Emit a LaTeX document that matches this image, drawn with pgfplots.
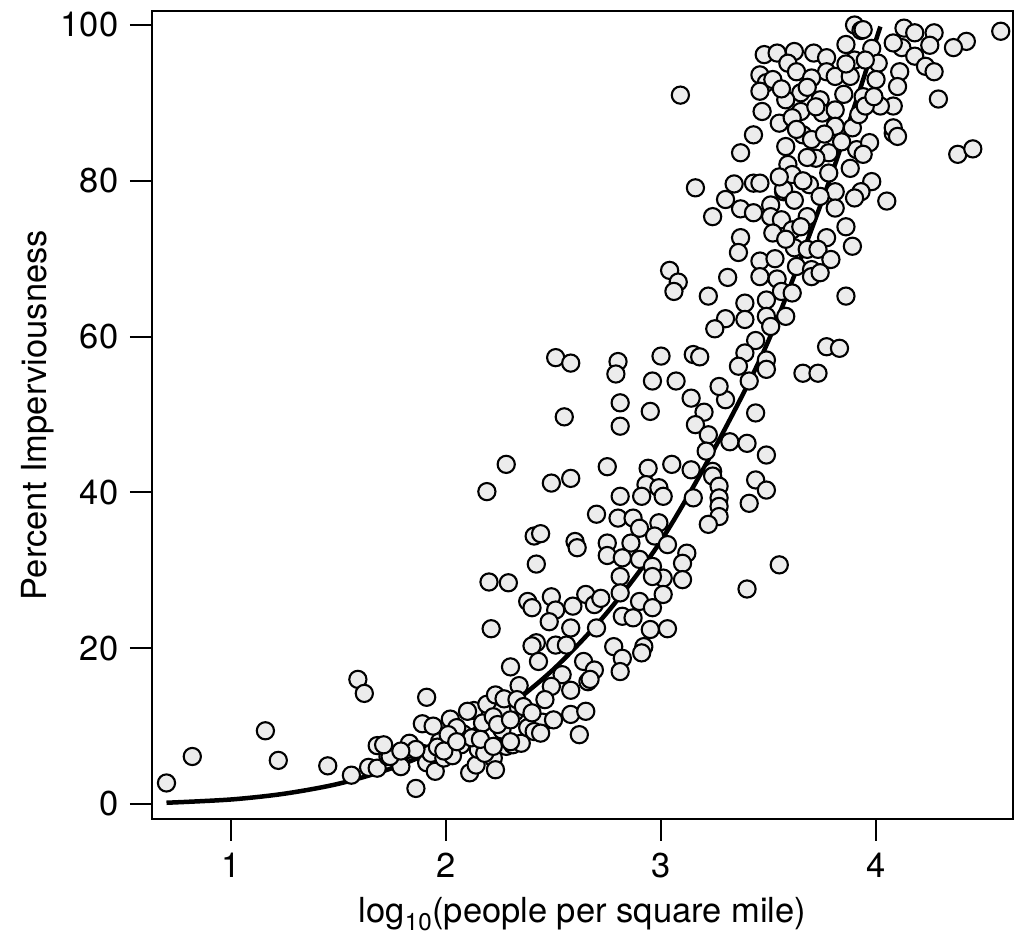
\documentclass[border=0pt]{standalone}
\usepackage{fontspec}
\setmainfont{TeX Gyre Heros}
\usepackage{pgfplots}
\usepackage{pgfplotstable}
\pgfplotsset{compat=1.18}
\definecolor{ptfill}{RGB}{236,236,236}
\pgfplotstableread{
x y
0.70 2.7
0.82 6.1
1.16 9.4
1.22 5.6
1.45 4.9
1.59 16.0
1.62 14.2
1.56 3.7
1.64 4.7
1.68 4.6
1.68 7.5
1.73 6.1
1.78 5.7
1.79 4.8
1.82 7.0
1.83 7.8
1.86 2.0
1.89 10.3
1.91 13.7
1.89 6.5
1.91 5.3
1.74 6.1
1.93 6.5
1.95 4.2
1.99 5.9
2.07 7.6
2.11 4.0
2.14 5.0
2.15 7.0
2.22 5.9
2.23 4.4
2.28 7.4
2.31 7.6
2.35 7.8
2.62 8.9
1.97 8.0
2.03 6.2
2.08 9.0
2.12 8.5
2.18 6.5
2.26 9.5
2.32 11.8
2.38 9.8
2.45 10.5
2.02 10.9
1.96 7.3
2.13 12.0
2.19 12.8
2.26 12.0
2.42 30.8
2.20 28.5
2.29 28.4
2.38 26.0
2.40 25.2
2.49 26.6
2.51 24.9
2.59 25.4
2.65 26.9
2.69 25.6
2.48 23.4
2.58 22.6
2.21 22.5
2.42 20.7
2.40 20.3
2.51 20.4
2.56 20.4
2.43 18.3
2.30 17.6
2.64 18.3
2.69 17.2
2.54 16.6
2.66 15.7
2.49 15.1
2.58 14.6
2.34 15.2
2.23 14.0
2.27 13.5
2.33 13.4
2.46 13.4
2.36 12.5
2.40 11.7
2.50 10.8
2.58 11.5
2.65 11.9
2.10 11.9
1.94 10.0
2.05 9.8
2.01 8.9
2.17 10.4
2.22 11.2
2.24 10.2
2.30 10.8
2.30 8.0
2.41 9.3
2.44 9.1
2.16 8.3
2.22 7.4
1.86 7.0
1.79 6.8
1.71 7.6
1.99 6.8
2.05 8.0
2.51 57.3
2.58 56.6
2.80 56.8
2.79 55.2
2.55 49.7
2.81 51.5
2.81 48.5
2.28 43.6
2.19 40.1
2.49 41.2
2.58 41.8
2.75 43.3
2.81 39.5
2.70 37.2
2.80 36.7
2.41 34.4
2.44 34.7
2.60 33.7
2.61 32.9
2.75 33.5
2.75 31.9
2.95 50.4
2.96 54.3
3.07 54.3
3.14 52.1
3.20 50.3
3.30 51.9
3.27 53.6
3.41 54.3
3.44 50.2
3.16 48.7
3.22 47.4
3.32 46.5
3.40 46.3
3.21 45.3
3.49 44.8
2.94 43.1
3.05 43.6
3.14 42.9
3.24 42.7
3.24 42.1
3.27 40.8
3.44 41.6
3.49 40.3
2.93 41.0
2.99 40.6
2.91 39.5
3.01 39.5
3.15 39.3
3.27 39.3
3.27 38.2
3.27 36.9
3.22 35.9
3.41 38.6
2.87 36.7
2.90 35.4
2.99 36.1
2.97 34.4
3.03 33.3
2.86 33.5
2.82 31.6
2.90 31.4
2.96 30.5
3.12 32.2
3.10 30.9
3.10 28.8
3.01 29.0
2.96 29.2
2.81 29.2
3.55 30.7
3.40 27.6
2.72 26.4
2.81 27.1
2.90 26.0
3.01 26.9
2.96 25.2
2.82 24.1
2.87 23.9
2.70 22.6
2.95 22.4
3.03 22.5
2.92 20.2
2.78 20.2
2.82 18.7
2.81 17.0
2.67 16.0
2.91 19.4
3.43 85.9
3.37 83.6
3.16 79.1
3.34 79.6
3.43 79.7
3.46 79.7
3.57 78.6
3.30 77.6
3.37 76.4
3.43 75.9
3.51 76.9
3.51 75.4
3.56 75.0
3.52 73.3
3.61 73.7
3.24 75.4
3.37 72.7
3.36 70.8
3.62 71.4
3.04 68.5
3.08 67.0
3.06 65.8
3.31 67.6
3.46 69.7
3.46 67.7
3.54 67.4
3.56 65.8
3.61 65.6
3.22 65.2
3.39 64.3
3.49 64.7
3.58 62.6
3.49 62.6
3.30 62.3
3.39 62.2
3.25 61.0
3.51 61.3
3.44 59.5
3.39 57.9
3.49 57.0
3.36 56.2
3.49 55.8
3.00 57.5
3.15 57.7
3.18 57.4
3.53 70.0
3.63 69.0
3.58 72.5
3.09 91.0
3.90 100.0
3.93 99.3
3.86 97.5
3.48 96.2
3.54 96.4
3.62 96.6
3.71 96.4
3.77 95.8
3.90 95.5
3.59 95.1
3.63 94.0
3.46 93.6
3.77 94.0
3.81 93.4
3.88 93.4
3.49 92.6
3.70 93.2
3.46 91.5
3.65 91.3
3.85 91.1
3.94 90.8
3.58 90.4
3.74 90.4
3.47 88.9
3.65 88.9
3.75 88.7
3.81 89.1
3.55 87.4
3.61 88.1
3.81 87.0
3.89 86.8
3.66 85.9
3.70 85.3
3.58 84.4
3.78 83.6
3.91 84.0
3.97 84.9
3.59 82.1
3.72 82.9
3.88 81.6
3.78 81.0
3.61 80.8
3.57 78.9
3.69 79.5
3.81 78.6
3.98 79.9
3.93 78.6
3.52 93.0
3.56 91.8
3.68 92.0
3.72 89.5
3.63 86.6
3.76 86.0
3.84 85.0
3.68 83.0
3.62 77.5
3.74 78.0
3.66 80.0
3.55 80.5
3.92 88.5
3.86 95.0
3.98 97.0
4.08 86.1
3.90 77.8
4.05 77.4
3.68 75.4
3.65 74.1
3.81 76.5
3.86 74.1
3.77 72.7
3.89 71.6
3.68 71.2
3.73 71.2
3.79 69.9
3.70 68.6
3.70 67.7
3.74 68.2
3.86 65.2
3.77 58.7
3.83 58.5
3.66 55.3
3.73 55.3
4.58 99.2
4.13 99.6
4.18 99.0
4.27 99.0
4.42 97.9
4.36 97.1
4.25 97.4
4.12 97.1
4.08 97.7
4.18 96.0
4.23 94.7
4.27 94.0
4.11 94.0
4.10 92.1
4.29 90.5
4.01 95.1
4.08 89.6
4.02 89.6
3.95 89.6
3.94 99.4
4.08 86.8
4.10 85.7
4.38 83.4
4.45 84.1
3.94 83.4
3.95 95.5
4.00 93.0
3.99 90.8
}\pts
\pgfplotstableread{
x y
0.70 0.16
1.00 0.58
1.25 1.33
1.50 2.60
1.75 4.62
2.00 7.54
2.25 11.7
2.50 17.3
2.75 24.6
3.00 33.8
3.25 45.7
3.50 59.5
3.75 77.5
3.87 87.1
4.02 99.8
}\fit
\begin{document}
\fontsize{34.5bp}{41bp}\selectfont
\begin{tikzpicture}
\useasboundingbox (-152bp,-116.7bp) rectangle (865bp,819bp);
\begin{axis}[
  scale only axis, width=861bp, height=808bp,
  xmin=0.6326, xmax=4.637, ymin=-1.925, ymax=101.8,
  axis line style={line width=2bp, black},
  every tick/.style={black, line width=2bp},
  major tick length=22bp,
  tick align=outside,
  tick pos=left,
  xtick={1,2,3,4}, ytick={0,20,40,60,80,100},
  minor tick num=0,
  tick label style={font=\fontsize{34.5bp}{41bp}\selectfont},
  /pgf/number format/assume math mode=true,
  every axis x label/.style={at={(axis description cs:0.5,-0.1275)}, anchor=base},
  every axis y label/.style={at={(axis description cs:-0.122,0.5)}, rotate=90, anchor=base},
  xlabel={log\textsubscript{10}(people per square mile)},
  ylabel={Percent Imperviousness},
  label style={font=\fontsize{34.5bp}{41bp}\selectfont},
]
\addplot[only marks, mark=*, mark size=8.6bp,
  mark options={fill=ptfill, draw=black, line width=2.1bp}] table {\pts};
\addplot[smooth, line width=4.5bp, black, no marks] table {\fit};
\end{axis}
\end{tikzpicture}
\end{document}
